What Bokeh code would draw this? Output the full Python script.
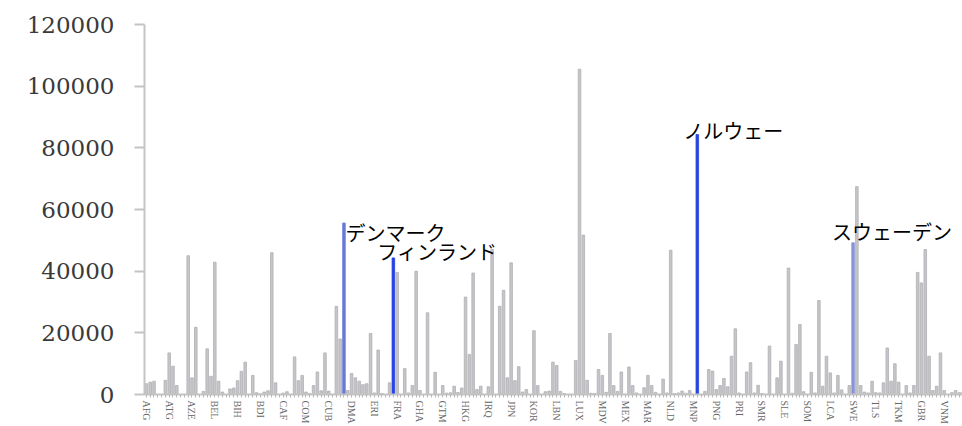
from bokeh.plotting import figure
from bokeh.models import ColumnDataSource, Range1d, FixedTicker, BasicTickFormatter
from bokeh.core.properties import value
from bokeh.embed import file_html
from bokeh.resources import INLINE

# ---- data ----
codes = ["AFG","ALB","DZA","ASM","AND","AGO","ATG","ARG","ARM","ABW","AUS","AUT","AZE","BHS","BHR","BGD","BRB","BLR","BEL","BLZ",
         "BEN","BMU","BTN","BOL","BIH","BWA","BRA","BRN","BGR","BFA","BDI","KHM","CMR","CAN","CPV","CYM","CAF","TCD","CHI","CHL",
         "CHN","COL","COM","COD","COG","CRI","CIV","HRV","CUB","CUW","CYP","CZE","DNK","DJI","DMA","DOM","ECU","EGY","SLV","GNQ",
         "ERI","EST","ETH","FRO","FJI","FIN","FRA","PYF","GAB","GMB","GEO","DEU","GHA","GIB","GRC","GRL","GRD","GUM","GTM","GIN",
         "GNB","GUY","HTI","HND","HKG","HUN","ISL","IND","IDN","IRN","IRQ","IRL","IMN","ISR","ITA","JAM","JPN","JOR","KAZ","KEN",
         "KIR","PRK","KOR","XKX","KWT","KGZ","LAO","LVA","LBN","LSO","LBR","LBY","LIE","LTU","LUX","MAC","MKD","MDG","MWI","MYS",
         "MDV","MLI","MLT","MHL","MRT","MUS","MEX","FSM","MDA","MCO","MNG","MNE","MAR","MOZ","MMR","NAM","NRU","NPL","NLD","NCL",
         "NZL","NIC","NER","NGA","MNP","NOR","OMN","PAK","PLW","PAN","PNG","PRY","PER","PHL","POL","PRT","PRI","QAT","ROU","RUS",
         "RWA","WSM","SMR","STP","SAU","SEN","SRB","SYC","SLE","SGP","SXM","SVK","SVN","SLB","SOM","ZAF","SSD","ESP","LKA","KNA",
         "LCA","MAF","VCT","SDN","SUR","SWZ","SWE","CHE","SYR","TJK","TZA","THA","TLS","TGO","TON","TTO","TUN","TUR","TKM","TCA",
         "TUV","UGA","UKR","ARE","GBR","USA","URY","UZB","VUT","VEN","VNM","VIR","PSE","YEM","ZMB","ZWE"]

values = [3500, 4000, 4300, 0, 0, 4600, 13500, 9200, 2900, 0,
          0, 45000, 5400, 21800, 0, 1000, 14800, 5900, 42900, 4300,
          800, 0, 1800, 2100, 4500, 7500, 10500, 0, 6200, 600,
          200, 800, 1200, 46000, 3800, 0, 450, 900, 0, 12200,
          4500, 6200, 800, 300, 2900, 7300, 1200, 13500, 1100, 0,
          28600, 18000, 55600, 1300, 6800, 5400, 4300, 3200, 3500, 19800,
          500, 14400, 350, 0, 3800, 44300, 39600, 0, 8400, 500,
          2900, 40000, 1300, 0, 26500, 0, 7200, 0, 2900, 450,
          550, 2700, 650, 2100, 31600, 13000, 39400, 1600, 2700, 0,
          2500, 47000, 0, 28600, 33800, 5400, 42700, 4500, 9000, 800,
          1600, 0, 20700, 2900, 0, 900, 1100, 10500, 9400, 1000,
          300, 0, 0, 11000, 105500, 51700, 4600, 400, 350, 8100,
          6200, 700, 19800, 2900, 1000, 7300, 0, 8900, 2900, 500,
          0, 2200, 6200, 2900, 700, 0, 5000, 500, 46800, 300,
          500, 1100, 400, 1300, 0, 84300, 0, 1000, 8100, 7600,
          1600, 2900, 5200, 2500, 12400, 21300, 500, 0, 7300, 10300,
          500, 3000, 300, 0, 15700, 0, 5400, 10800, 0, 41000,
          400, 16200, 22700, 900, 0, 7200, 500, 30500, 2700, 12400,
          7000, 500, 6200, 1500, 0, 2900, 49200, 67400, 2900, 800,
          500, 4300, 600, 500, 3800, 15100, 4300, 10000, 4000, 0,
          2900, 500, 2900, 39600, 36200, 47000, 12400, 1300, 2700, 13500,
          1300, 0, 600, 1300, 600, 800]

tick_labels = ["AFG","ATG","AZE","BEL","BIH","BDI","CAF","COM","CUB","DMA","ERI","FRA","GHA","GTM","HKG","IRQ","JPN","KOR",
               "LBN","LUX","MDV","MEX","MAR","NLD","MNP","PNG","PRI","SMR","SLE","SOM","LCA","SWE","TLS","TKM","GBR","VNM"]

highlight_codes = ["DNK", "FIN", "NOR", "SWE"]
highlight_names = ["デンマーク", "フィンランド", "ノルウェー", "スウェーデン"]

y_ticks = [0, 20000, 40000, 60000, 80000, 100000, 120000]

# ---- styles ----
highlight_colors = {"DNK": "#6a78d8", "FIN": "#2540e6", "NOR": "#2a44dc", "SWE": "#8a92d8"}
label_x_offsets = [1.5, -16, -14, -21]
label_y_offsets = [9, -6, -4, -11]

idx = list(range(len(codes)))
fills = [highlight_colors.get(c, "#c6c6ca") for c in codes]
lines = [highlight_colors.get(c, "#b0b0b4") for c in codes]
src = ColumnDataSource(dict(x=idx, top=values, code=codes, fill=fills, line=lines))

p = figure(width=962, height=426, output_backend="svg", toolbar_location=None,
           x_range=Range1d(-0.5, 214.8), y_range=Range1d(0, 120000),
           min_border_left=144, min_border_right=0, min_border_top=24, min_border_bottom=30)
p.outline_line_color = None
p.xgrid.visible = False
p.ygrid.visible = False
p.background_fill_color = "white"
p.border_fill_color = "white"

p.vbar(x="x", top="top", width=0.68, source=src, fill_color="fill", line_color="line", line_width=0.8)

# annotations
hi_idx = [codes.index(c) for c in highlight_codes]
hi_val = [values[i] for i in hi_idx]
tsrc = ColumnDataSource(dict(x=hi_idx, y=hi_val, t=highlight_names, xo=label_x_offsets, yo=label_y_offsets))
p.text(x="x", y="y", text="t", source=tsrc, x_offset="xo", y_offset="yo",
       text_align="left", text_baseline="middle", text_color="black",
       text_font=value("Noto Sans CJK JP"), text_font_size="20px")

# y axis
ya = p.yaxis[0]
ya.ticker = FixedTicker(ticks=y_ticks)
ya.formatter = BasicTickFormatter(use_scientific=False)
ya.axis_line_color = "#c4c4c4"
ya.axis_line_width = 2
ya.major_tick_line_color = "#c4c4c4"
ya.major_tick_line_width = 2
ya.major_tick_out = 10
ya.major_tick_in = 0
ya.minor_tick_line_color = None
ya.major_label_standoff = 20
ya.major_label_text_font = "DejaVu Serif"
ya.major_label_text_font_size = "23px"
ya.major_label_text_color = "#3a3a3a"

# x axis
xa = p.xaxis[0]
xa.ticker = FixedTicker(ticks=idx)
xa.major_label_overrides = {i: (c if c in tick_labels else "") for i, c in zip(idx, codes)}
xa.major_label_orientation = "vertical"
xa.axis_line_color = "#c4c4c4"
xa.axis_line_width = 2
xa.major_tick_line_color = "#b8b8b8"
xa.major_tick_line_width = 1
xa.major_tick_out = 3
xa.major_tick_in = 0
xa.minor_tick_line_color = None
xa.major_label_standoff = 3
xa.major_label_text_font = "Liberation Serif"
xa.major_label_text_font_size = "10px"
xa.major_label_text_color = "#666666"

open("out.html", "w").write(file_html(p, INLINE))
